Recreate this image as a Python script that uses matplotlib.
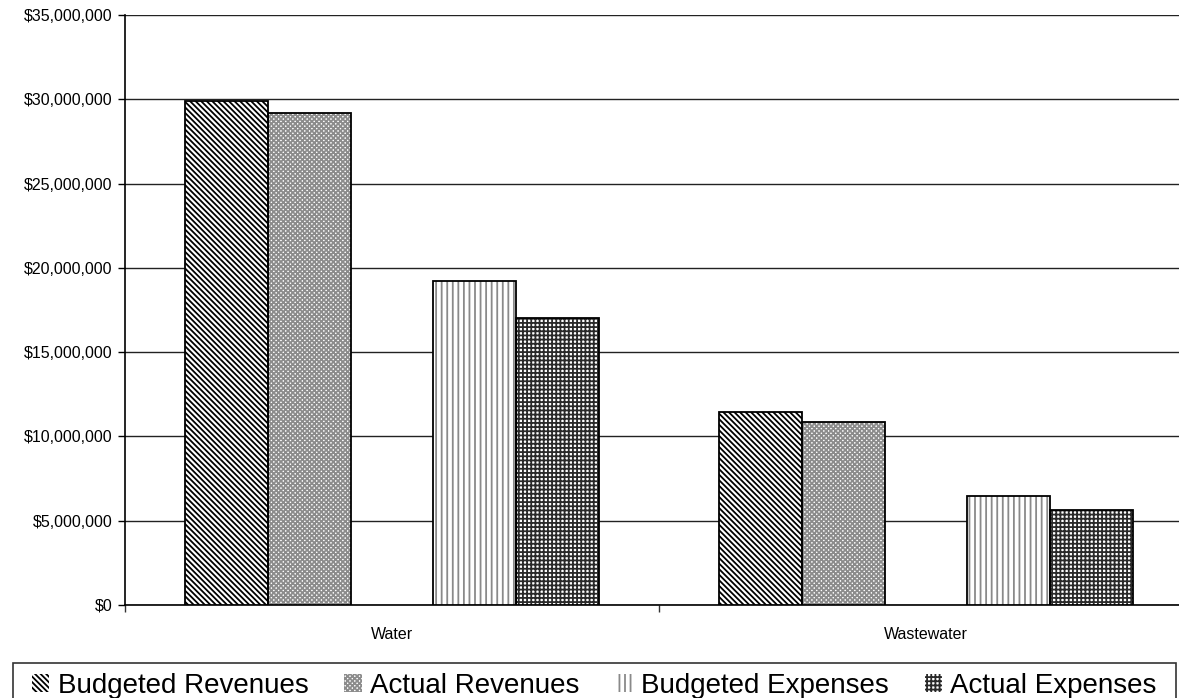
import matplotlib
matplotlib.use('Agg')
import matplotlib.pyplot as plt
import matplotlib.ticker as mticker
from matplotlib.patches import Rectangle
import numpy as np

plt.rcParams['font.family'] = ['Liberation Sans', 'DejaVu Sans']
plt.rcParams['hatch.linewidth'] = 1.3

# budget vs actual, per utility fund
funds = ['Water', 'Wastewater']
series = ['Budgeted Revenues', 'Actual Revenues', 'Budgeted Expenses', 'Actual Expenses']
budgeted_revenues = [29900000, 11450000]
actual_revenues = [29200000, 10850000]
budgeted_expenses = [19220000, 6470000]
actual_expenses = [17030000, 5650000]
yticks = [0, 5000000, 10000000, 15000000, 20000000, 25000000, 30000000, 35000000]

values = [budgeted_revenues, actual_revenues, budgeted_expenses, actual_expenses]
hatches = ['\\' * 6, 'x' * 7, '|||', '++++']
hatch_colors = ['black', '#8c8c8c', '#8a8a8a', '#2a2a2a']
slots = [-2, -1, 1, 2]   # empty slot in the middle separates revenues from expenses

fig = plt.figure(figsize=(11.79, 6.98), dpi=100)
ax = fig.add_axes([125 / 1179, 93 / 698, 1068 / 1179, 590 / 698])

w = 0.155
x = np.arange(len(funds))
handles = []
for vals, h, hc, s, name in zip(values, hatches, hatch_colors, slots, series):
    b = ax.bar(x + s * w, vals, w, color='white', edgecolor=hc, hatch=h,
               linewidth=0, label=name, zorder=3)
    ax.bar(x + s * w, vals, w, fill=False, edgecolor='black', linewidth=1.3, zorder=4)
    handles.append(b)

ax.set_xlim(-0.5, 1.5)
ax.set_ylim(0, 35000000)
ax.set_yticks(yticks)
ax.yaxis.set_major_formatter(mticker.FuncFormatter(lambda v, p: '${:,.0f}'.format(v)))
ax.grid(axis='y', color='#222222', linewidth=1.0, zorder=0)
ax.set_axisbelow(True)

ax.set_xticks(x)
ax.set_xticklabels(funds)
ax.set_xticks([-0.5, 0.5, 1.5], minor=True)
ax.tick_params(axis='x', which='major', length=0, pad=16, labelsize=11.5)
ax.tick_params(axis='x', which='minor', length=5, width=1, color='#333333')
ax.tick_params(axis='y', length=5, width=1, pad=4, labelsize=11.5)

for side in ['top', 'right']:
    ax.spines[side].set_visible(False)
ax.spines['left'].set_linewidth(1.2)
ax.spines['bottom'].set_linewidth(1.2)

# legend with its own square frame along the bottom edge
leg = fig.legend(handles=handles, labels=series, loc='center left',
                 bbox_to_anchor=(32 / 1179, 1 - 686 / 698), ncol=4, frameon=False,
                 fontsize=20, borderpad=0, borderaxespad=0,
                 handlelength=0.62, handleheight=0.62, handletextpad=0.3,
                 columnspacing=1.3)
fig.patches.append(Rectangle((13 / 1179, -0.05), (1176 - 13) / 1179, 0.05 + (698 - 663) / 698,
                             transform=fig.transFigure, fill=False, edgecolor='#333333',
                             linewidth=1.2))

fig.savefig('out.png', dpi=100)
